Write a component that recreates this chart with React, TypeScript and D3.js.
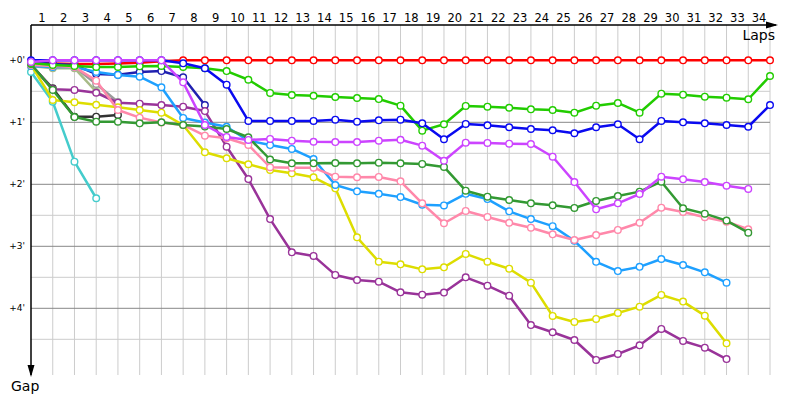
import React from 'react'
import * as d3 from 'd3'

// gap to leader in seconds, one value per lap starting at lap 0
const red = [2.6, 3.1, 3.6, 3.6, 3.1, 2.3, 1.0, 0, 0, 0, 0, 0, 0, 0, 0, 0, 0, 0, 0, 0, 0, 0, 0, 0, 0, 0, 0, 0, 0, 0, 0, 0, 0, 0, 0]
const green = [2.6, 4.5, 5.5, 6.5, 6.5, 5.8, 5.5, 6.5, 7.7, 10.4, 18.8, 31.6, 33.6, 34.3, 35.5, 36.5, 37.5, 43.9, 68.1, 61.9, 44.2, 44.9, 45.9, 47.4, 48.1, 50.7, 43.9, 41.3, 50.7, 32.3, 33.3, 35.2, 36.2, 37.7, 15.2]
const blue = [0, 0, 0, 0, 0, 0, 0, 2.9, 7.7, 23.6, 58.7, 58.7, 58.7, 58.7, 57.5, 59.4, 58.1, 57.5, 61.0, 76.4, 61.6, 62.9, 64.8, 66.5, 67.7, 70.6, 64.8, 61.9, 76.4, 58.7, 60.0, 61.0, 62.6, 64.3, 43.3]
const violet = [1.6, 0, 0, 0, 0, 0, 0, 21.3, 62.6, 74.2, 77.1, 76.1, 77.8, 78.8, 79.1, 79.1, 77.8, 76.9, 82.6, 97.2, 79.7, 80.0, 80.7, 81.0, 93.3, 117.8, 144.2, 138.4, 129.4, 112.6, 115.2, 117.8, 121.3, 124.5]
const navy = [1.6, 3.6, 4.5, 13.3, 13.9, 11.3, 10.4, 16.5, 43.3]
const sky = [5.5, 6.5, 6.5, 11.3, 14.2, 15.9, 26.1, 55.8, 60.2, 64.3, 77.8, 82.0, 85.8, 95.5, 120.7, 126.8, 129.2, 132.4, 139.8, 140.4, 129.2, 134.3, 146.2, 153.7, 160.5, 174.7, 195.0, 204.0, 199.9, 192.3, 198.1, 205.2, 215.2]
const darkGreen = [3.6, 28.7, 54.9, 59.4, 59.4, 61.0, 60.0, 62.6, 64.1, 66.5, 74.5, 96.0, 99.7, 99.7, 99.4, 99.7, 99.1, 99.7, 100.3, 103.2, 126.2, 132.0, 135.2, 138.4, 140.3, 142.9, 136.1, 131.3, 127.1, 117.5, 143.2, 148.4, 155.1, 166.8]
const pink = [4.5, 5.5, 6.5, 19.7, 48.1, 55.5, 60.2, 62.6, 72.9, 75.5, 81.9, 103.5, 103.9, 103.9, 112.6, 113.2, 112.9, 117.1, 138.4, 157.7, 145.8, 151.6, 157.2, 162.0, 168.4, 173.9, 169.1, 164.2, 157.2, 142.6, 146.8, 151.9, 156.2, 163.5]
const yellow = [4.5, 38.4, 40.6, 43.0, 45.5, 48.1, 50.7, 62.6, 89.0, 94.8, 100.6, 106.1, 109.4, 113.2, 123.9, 171.3, 194.9, 197.4, 202.3, 200.3, 187.4, 194.9, 201.7, 215.2, 247.4, 253.2, 250.3, 244.5, 238.4, 227.1, 233.5, 247.1, 273.9]
const purple = [4.5, 28.1, 28.7, 31.4, 41.0, 42.0, 43.3, 44.9, 49.1, 83.6, 114.9, 153.7, 185.8, 189.3, 207.7, 212.6, 214.2, 224.5, 226.8, 224.8, 210.0, 218.1, 227.8, 256.2, 263.2, 270.7, 290.0, 284.2, 275.8, 260.0, 271.6, 278.1, 289.1]
const cyan = [11.3, 40.1, 98.1, 133.5]
const black = [4.5, 27.1, 54.6, 54.6, 52.9]
const gray = [2.6, 6.5, 6.5, 22.9, 40.4]
const grayGreen = [5.5, 7.7, 7.7, 30.4, 41.8]

const lapLabels = d3.range(1, 35)
const gapTicks = [0, 60, 120, 180, 240]
const gapLabels = ["+0'", "+1'", "+2'", "+3'", "+4'"]
const minorTicks = [30, 90, 150, 210, 270]

const series = [
  { values: red, color: '#ff0000' },
  { values: cyan, color: '#44cccc' },
  { values: black, color: '#333333' },
  { values: gray, color: '#9a9a9a' },
  { values: grayGreen, color: '#a8bb88' },
  { values: navy, color: '#2020b0' },
  { values: purple, color: '#993399' },
  { values: yellow, color: '#dddd00' },
  { values: sky, color: '#1ea0ff' },
  { values: pink, color: '#ff88aa' },
  { values: darkGreen, color: '#339933' },
  { values: green, color: '#22cc00' },
  { values: blue, color: '#0a0af0' },
  { values: violet, color: '#cc44ff' },
]

export default function App() {
  const x = d3.scaleLinear().domain([0, 34]).range([31, 770])
  const y = d3.scaleLinear().domain([0, 300]).range([60.3, 370.3])
  const top = 25, bottom = 375
  const line = d3.line<number>().x((_, i) => x(i)).y(d => y(d))
  const font = 'DejaVu Sans, sans-serif'

  return (
    <svg width={800} height={400} style={{ position: 'absolute', left: 0, top: 0, background: '#fff' }}>
      {/* vertical grid */}
      {lapLabels.map(k => (
        <line key={'v' + k} x1={x(k)} x2={x(k)} y1={top} y2={bottom} stroke="#cccccc" strokeWidth={1} />
      ))}
      {minorTicks.map(t => (
        <line key={'m' + t} x1={x(0)} x2={x(34)} y1={y(t)} y2={y(t)} stroke="#cccccc" strokeWidth={1} />
      ))}
      {gapTicks.map(t => (
        <line key={'M' + t} x1={x(0)} x2={x(34)} y1={y(t)} y2={y(t)} stroke="#888888" strokeWidth={1} />
      ))}

      {/* axes */}
      <line x1={x(0)} x2={776} y1={top} y2={top} stroke="#000" strokeWidth={1.5} />
      <path d={`M778,${top} L766,${top - 3.5} L766,${top + 3.5} Z`} fill="#000" />
      <line x1={x(0)} x2={x(0)} y1={top} y2={375} stroke="#000" strokeWidth={1.5} />
      <path d={`M${x(0)},377 L${x(0) - 3.5},365 L${x(0) + 3.5},365 Z`} fill="#000" />

      {lapLabels.map(k => (
        <text key={'l' + k} x={x(k - 0.5)} y={21.5} textAnchor="middle" fontFamily={font} fontSize={11.5} fill="#000">{k}</text>
      ))}
      {gapTicks.map((t, i) => (
        <text key={'g' + t} x={25} y={y(t) + 3} textAnchor="end" fontFamily={font} fontSize={9} fill="#000">{gapLabels[i]}</text>
      ))}
      <text x={775} y={39.5} textAnchor="end" fontFamily={font} fontSize={14} fill="#000">Laps</text>
      <text x={11} y={390.5} fontFamily={font} fontSize={14} fill="#000">Gap</text>

      {series.map((s, si) => (
        <g key={'s' + si}>
          <path d={line(s.values) || ''} fill="none" stroke={s.color} strokeWidth={2.5} strokeLinejoin="round" />
          {s.values.map((v, i) => (
            <circle key={i} cx={x(i)} cy={y(v)} r={3.3} fill="#fff" stroke={s.color} strokeWidth={1.4} />
          ))}
        </g>
      ))}
    </svg>
  )
}
